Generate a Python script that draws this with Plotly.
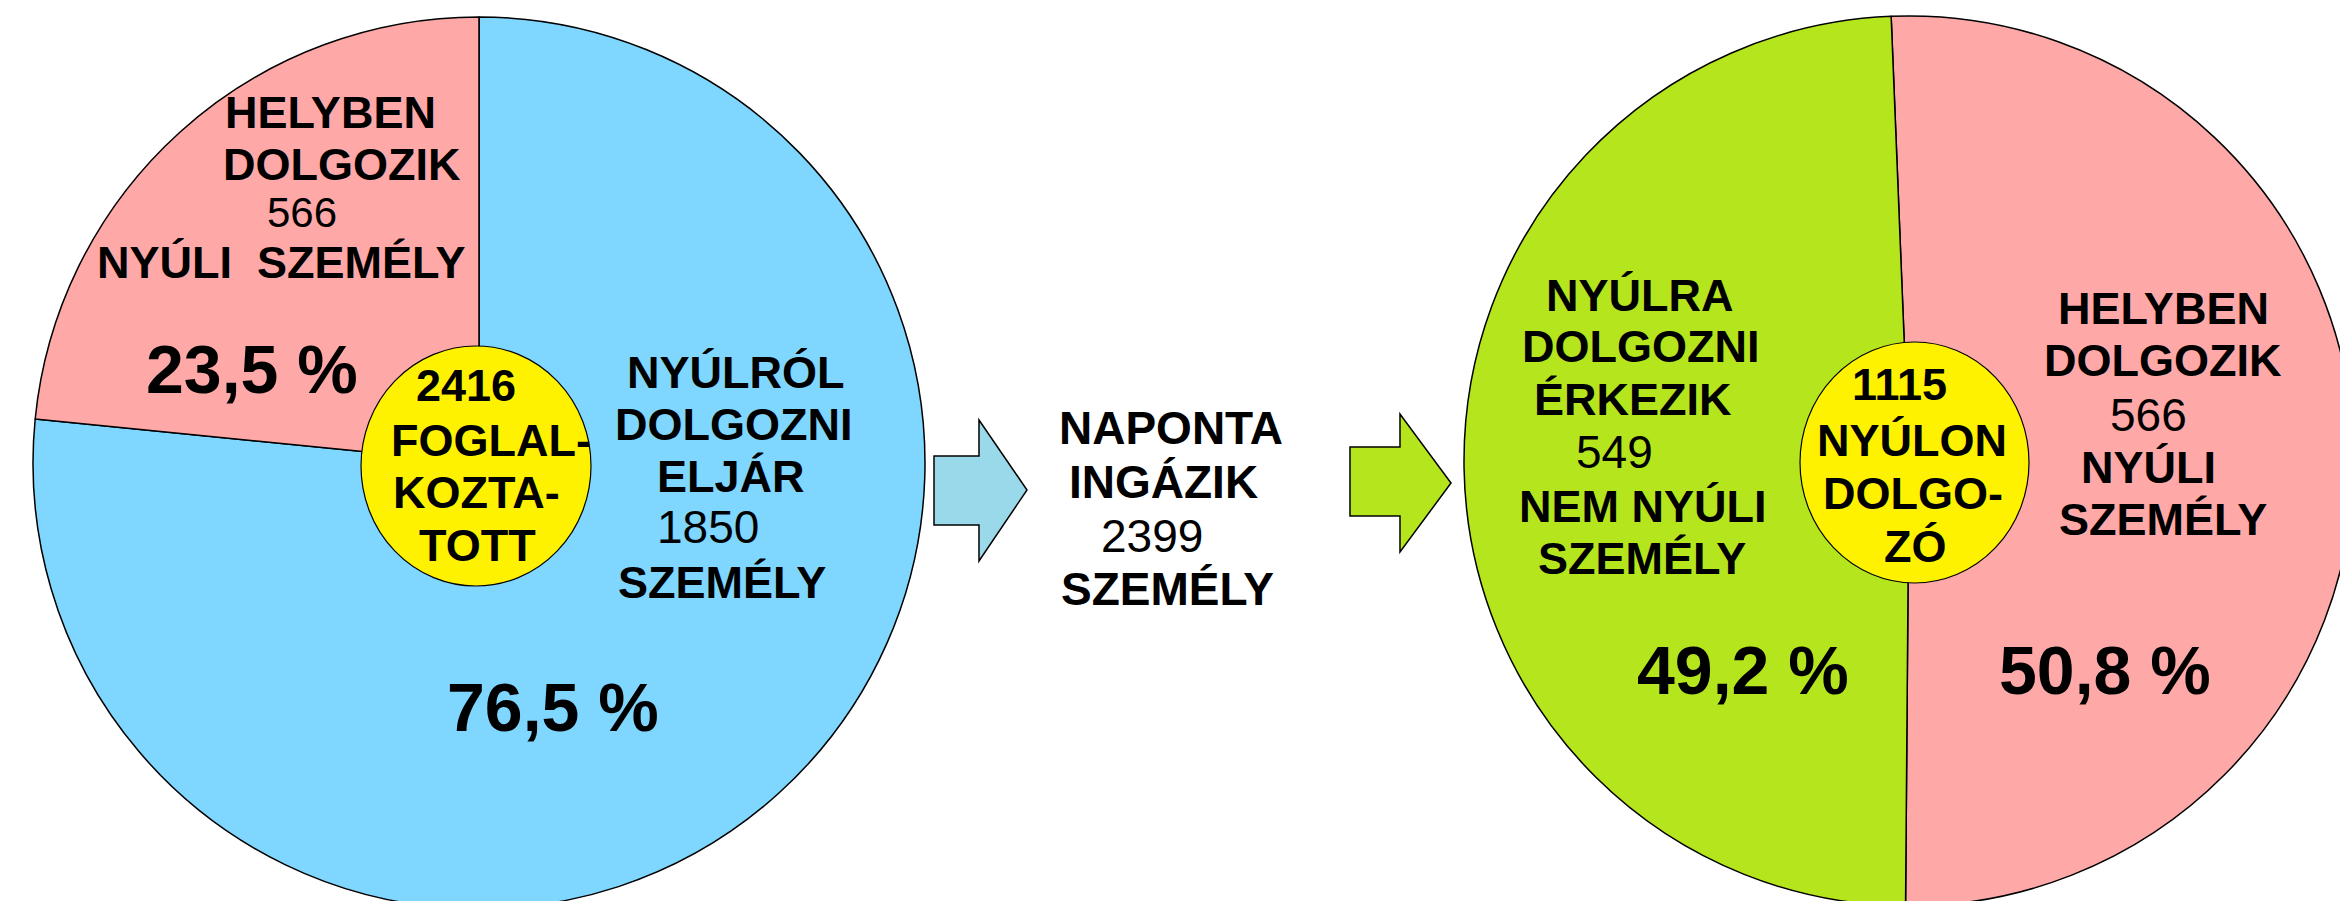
import plotly.graph_objects as go

W, H = 2348, 901

# ---------------- data ----------------
left_labels = ["Nyúlról dolgozni eljár", "Helyben dolgozik"]
left_values = [1850, 566]
left_pct = ["76,5 %", "23,5 %"]
left_total = 2416

right_labels = ["Helyben dolgozik", "Nyúlra dolgozni érkezik"]
right_values = [566, 549]
right_pct = ["50,8 %", "49,2 %"]
right_total = 1115

commuters = 2399

# text blocks (words), numbers taken from the data above
left_blue_lines = ["NYÚLRÓL", "DOLGOZNI", "ELJÁR", str(left_values[0]), "SZEMÉLY"]
left_pink_lines = ["HELYBEN", "DOLGOZIK", str(left_values[1]), "NYÚLI\u00a0\u00a0SZEMÉLY"]
left_center_lines = [str(left_total), "FOGLAL-", "KOZTA-", "TOTT"]
mid_lines = ["NAPONTA", "INGÁZIK", str(commuters), "SZEMÉLY"]
right_green_lines = ["NYÚLRA", "DOLGOZNI", "ÉRKEZIK", str(right_values[1]), "NEM NYÚLI", "SZEMÉLY"]
right_pink_lines = ["HELYBEN", "DOLGOZIK", str(right_values[0]), "NYÚLI", "SZEMÉLY"]
right_center_lines = [str(right_total), "NYÚLON", "DOLGO-", "ZÓ"]

# ---------------- styles / layout positions (pixels) ----------------
BLUE = "#7FD6FF"
PINK = "#FFA8A8"
GREEN = "#B5E61D"
YELLOW = "#FFF200"
ARROW_BLUE = "#99D9EA"
FONT = "Liberation Sans, Arial, sans-serif"


def px(x):
    return x / W


def py(y):
    return 1 - y / H


fig = go.Figure()

# left pie: centre (471,455), r 446
fig.add_trace(go.Pie(
    labels=left_labels, values=left_values, sort=False, direction="clockwise",
    rotation=0, textinfo="none", hoverinfo="label+value+percent",
    marker=dict(colors=[BLUE, PINK], line=dict(color="black", width=1.5)),
    domain=dict(x=[px(25), px(917)], y=[py(901), py(9)]),
    showlegend=False,
))
# right pie: centre (1901,453), r 445
fig.add_trace(go.Pie(
    labels=right_labels, values=right_values, sort=False, direction="clockwise",
    rotation=-2.3, textinfo="none", hoverinfo="label+value+percent",
    marker=dict(colors=[PINK, GREEN], line=dict(color="black", width=1.5)),
    domain=dict(x=[px(1456), px(2346)], y=[py(898), py(8)]),
    showlegend=False,
))

shapes = []
# yellow centre discs
for (x0, y0, x1, y1) in [(353, 338, 583, 578), (1792, 334, 2021, 575)]:
    shapes.append(dict(type="circle", xref="paper", yref="paper",
                       x0=px(x0), x1=px(x1), y0=py(y1), y1=py(y0),
                       fillcolor=YELLOW, line=dict(color="black", width=1.2),
                       layer="above"))


def arrow_path(pts):
    return "M " + " L ".join(f"{px(x):.5f},{py(y):.5f}" for x, y in pts) + " Z"


arrow1 = [(926, 448), (971, 448), (971, 412), (1019, 482), (971, 553), (971, 517), (926, 517)]
arrow2 = [(1342, 439), (1392, 439), (1392, 406), (1443, 475), (1392, 544), (1392, 508), (1342, 508)]
for pts, col in [(arrow1, ARROW_BLUE), (arrow2, GREEN)]:
    shapes.append(dict(type="path", xref="paper", yref="paper", path=arrow_path(pts),
                       fillcolor=col, line=dict(color="black", width=1.5), layer="above"))

annotations = []
YSHIFT = -8  # visual cap-centre correction


def add_lines(lines, positions, dx=0, size=45, num_bold=False, num_size=46):
    for txt, (x, y) in zip(lines, positions):
        is_num = txt.isdigit()
        bold = (not is_num) or num_bold
        t = f"<b>{txt}</b>" if bold else txt
        annotations.append(dict(
            text=t, x=px(x + dx), y=py(y + YSHIFT), xref="paper", yref="paper",
            xanchor="center", yanchor="middle", showarrow=False,
            font=dict(family=FONT, size=(num_size if is_num else size), color="black"),
        ))


def add_pct(txt, x, y):
    annotations.append(dict(
        text=f"<b>{txt}</b>", x=px(x), y=py(y - 9), xref="paper", yref="paper",
        xanchor="center", yanchor="middle", showarrow=False,
        font=dict(family=FONT, size=68, color="black"),
    ))


add_lines(left_pink_lines, [(328, 112), (340, 164), (300, 213), (279, 263)], dx=-6, num_size=42)
add_lines(left_blue_lines, [(734, 372), (731, 424), (729, 476), (706, 527), (720, 582)], dx=-6)
add_lines(left_center_lines, [(458, 386), (483, 440), (468, 492), (469, 545)],
          num_bold=True, num_size=45)
add_lines(mid_lines, [(1169, 428), (1161, 482), (1150, 536), (1165, 589)], dx=-6, size=46)
add_lines(right_green_lines, [(1640, 295), (1640, 346), (1633, 399), (1614, 452), (1643, 506), (1642, 558)], dx=-8)
add_lines(right_pink_lines, [(2165, 308), (2165, 360), (2150, 415), (2150, 467), (2165, 519)], dx=-10)
add_lines(right_center_lines, [(1895, 385), (1908, 440), (1909, 493), (1911, 546)], dx=-4,
          num_bold=True, num_size=45)

add_pct(left_pct[1], 244, 370)
add_pct(left_pct[0], 545, 708)
add_pct(right_pct[1], 1735, 671)
add_pct(right_pct[0], 2097, 671)

fig.update_layout(
    width=W, height=H,
    margin=dict(l=0, r=0, t=0, b=0),
    paper_bgcolor="white", plot_bgcolor="white",
    shapes=shapes, annotations=annotations,
    showlegend=False,
)

fig.write_html("out.html")
